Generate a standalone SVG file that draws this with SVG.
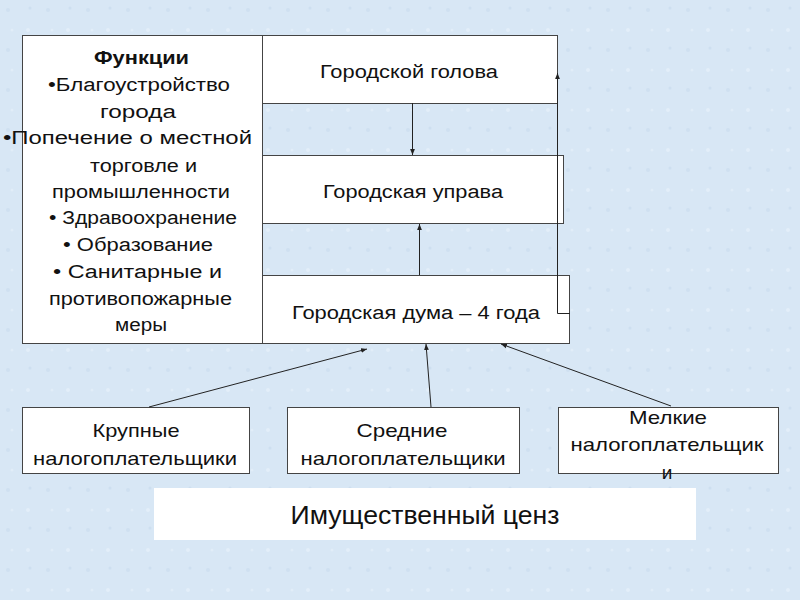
<svg xmlns="http://www.w3.org/2000/svg" width="800" height="600" viewBox="0 0 800 600">
<defs>
<marker id="ah" viewBox="0 0 10 10" refX="10" refY="5" markerWidth="6" markerHeight="6" orient="auto" markerUnits="userSpaceOnUse">
<path d="M0,1 L10,5 L0,9 z" fill="#222"/>
</marker>
<pattern id="bgp" width="40" height="40" patternUnits="userSpaceOnUse">
<rect width="40" height="40" fill="#d8e7f5"/>
<circle cx="8" cy="10" r="2" fill="#cfe0f1"/>
<circle cx="28" cy="30" r="2" fill="#e3eef9"/>
<circle cx="30" cy="8" r="1.5" fill="#cddff0"/>
<circle cx="12" cy="30" r="1.5" fill="#e1edf8"/>
</pattern>
</defs>
<style>
.box{fill:#fff;stroke:#444;stroke-width:1}
.t{font-family:"Liberation Sans",Arial,sans-serif;font-size:18px;fill:#111;text-anchor:middle}
.s{font-size:19px}
.b{font-size:25px}
.c{stroke:#222;stroke-width:1;fill:none}
</style>
<rect width="800" height="600" fill="url(#bgp)"/>
<g id="functions">
<rect class="box" x="22.5" y="35.5" width="240" height="308"/>
<text class="t" x="141.5" y="64" font-weight="bold" textLength="95" lengthAdjust="spacingAndGlyphs">Функции</text>
<text class="t" x="139" y="91" textLength="182" lengthAdjust="spacingAndGlyphs">•Благоустройство</text>
<text class="t" x="138" y="118" textLength="76" lengthAdjust="spacingAndGlyphs">города</text>
<text class="t" x="127.5" y="144" textLength="249" lengthAdjust="spacingAndGlyphs">•Попечение о местной</text>
<text class="t" x="143.5" y="172" textLength="107" lengthAdjust="spacingAndGlyphs">торговле и</text>
<text class="t" x="141" y="198" textLength="178" lengthAdjust="spacingAndGlyphs">промышленности</text>
<text class="t" x="143" y="224" textLength="188" lengthAdjust="spacingAndGlyphs">• Здравоохранение</text>
<text class="t" x="138" y="251" textLength="150" lengthAdjust="spacingAndGlyphs">• Образование</text>
<text class="t" x="137.5" y="278" textLength="169" lengthAdjust="spacingAndGlyphs">• Санитарные  и</text>
<text class="t" x="140.5" y="305" textLength="183" lengthAdjust="spacingAndGlyphs">противопожарные</text>
<text class="t" x="141" y="331" textLength="52" lengthAdjust="spacingAndGlyphs">меры</text>
</g>
<g id="golova">
<rect class="box" x="262.5" y="35.5" width="295" height="68"/>
<text class="t" x="409" y="78" textLength="178" lengthAdjust="spacingAndGlyphs">Городской голова</text>
</g>
<g id="uprava">
<rect class="box" x="262.5" y="155.5" width="301" height="68"/>
<text class="t" x="413" y="198" textLength="180" lengthAdjust="spacingAndGlyphs">Городская управа</text>
</g>
<g id="duma">
<rect class="box" x="262.5" y="275.5" width="307" height="68"/>
<text class="t" x="416" y="319" textLength="248" lengthAdjust="spacingAndGlyphs">Городская дума – 4 года</text>
</g>
<g id="krupnye">
<rect class="box" x="22.5" y="407.5" width="227" height="66"/>
<text class="t s" x="136" y="437" textLength="87" lengthAdjust="spacingAndGlyphs">Крупные</text>
<text class="t s" x="135" y="465" textLength="204" lengthAdjust="spacingAndGlyphs">налогоплательщики</text>
</g>
<g id="srednie">
<rect class="box" x="287.5" y="407.5" width="232" height="66"/>
<text class="t s" x="402" y="437" textLength="91" lengthAdjust="spacingAndGlyphs">Средние</text>
<text class="t s" x="403" y="465" textLength="205" lengthAdjust="spacingAndGlyphs">налогоплательщики</text>
</g>
<g id="melkie">
<rect class="box" x="558.5" y="407.5" width="220" height="66"/>
<text class="t s" x="668" y="424" textLength="78" lengthAdjust="spacingAndGlyphs">Мелкие</text>
<text class="t s" x="667" y="451" textLength="193" lengthAdjust="spacingAndGlyphs">налогоплательщик</text>
<text class="t s" x="667" y="479">и</text>
</g>
<g id="cenz">
<rect x="154" y="488" width="542" height="52" fill="#fff"/>
<text class="t b" x="425" y="524" textLength="269" lengthAdjust="spacingAndGlyphs">Имущественный ценз</text>
</g>
<g id="connectors">
<line class="c" x1="412.5" y1="103" x2="412.5" y2="155" marker-end="url(#ah)"/>
<line class="c" x1="419.5" y1="275" x2="419.5" y2="224" marker-end="url(#ah)"/>
<polyline class="c" points="570,313.5 557.5,313.5 557.5,73" marker-end="url(#ah)"/>
<line class="c" x1="149" y1="407" x2="367" y2="349" marker-end="url(#ah)"/>
<line class="c" x1="431" y1="407" x2="426" y2="344" marker-end="url(#ah)"/>
<line class="c" x1="671" y1="406" x2="501" y2="344" marker-end="url(#ah)"/>
</g>
</svg>
